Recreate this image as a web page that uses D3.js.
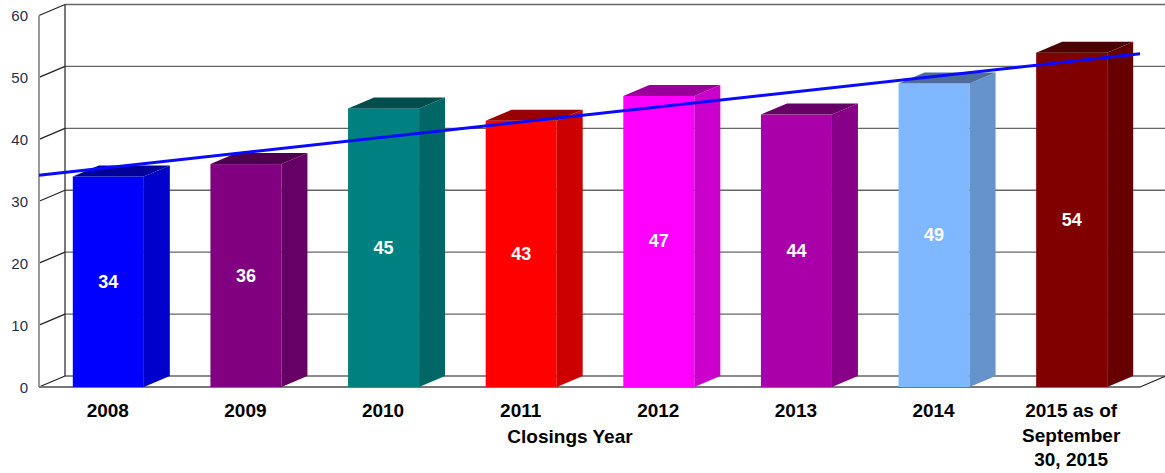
<!DOCTYPE html>
<html>
<head>
<meta charset="utf-8">
<script src="https://cdn.jsdelivr.net/npm/d3@7"></script>
<style>
  body { margin: 0; background: #fff; }
  svg { display: block; font-family: Arial, "Liberation Sans", sans-serif; }
</style>
</head>
<body>
<script>
// data
const years = ["2008", "2009", "2010", "2011", "2012", "2013", "2014", "2015 as of September 30, 2015"];
const closings = [34, 36, 45, 43, 47, 44, 49, 54];
const barColors = ["#0000ff", "#800080", "#008080", "#ff0000", "#ff00ff", "#aa00aa", "#80b8ff", "#800000"];
const yTicks = [0, 10, 20, 30, 40, 50, 60];

const width = 1165, height = 473;
const depthX = 26, depthY = -11;   // 3d offset of the back wall

var svg = d3.select("body")
    .append("svg")
    .attr("width", width)
    .attr("height", height);

const x = d3.scaleBand()
    .domain(years)
    .range([39, 1140]);

const y = d3.scaleLinear()
    .domain([0, 60])
    .range([387, 15.5]);

const barW = x.bandwidth() * 0.516;

// shade a colour (side and top faces)
function shade(c, k) {
    const r = d3.rgb(c);
    return d3.rgb(r.r * k, r.g * k, r.b * k).formatHex();
}

// back wall gridlines
svg.append("g").selectAll("line")
    .data(yTicks)
    .enter()
    .append("line")
    .attr("x1", x.range()[0] + depthX)
    .attr("x2", width)
    .attr("y1", d => y(d) + depthY)
    .attr("y2", d => y(d) + depthY)
    .attr("stroke", "#666")
    .attr("stroke-width", 1.3);

// side wall diagonals
svg.append("g").selectAll("line")
    .data(yTicks)
    .enter()
    .append("line")
    .attr("x1", x.range()[0])
    .attr("x2", x.range()[0] + depthX)
    .attr("y1", d => y(d))
    .attr("y2", d => y(d) + depthY)
    .attr("stroke", "#222")
    .attr("stroke-width", 1.2);

// back wall vertical edge
svg.append("line")
    .attr("x1", x.range()[0] + depthX).attr("x2", x.range()[0] + depthX)
    .attr("y1", y(60) + depthY).attr("y2", y(0) + depthY)
    .attr("stroke", "#222").attr("stroke-width", 1.2);

// front axis + floor
svg.append("line")
    .attr("x1", x.range()[0]).attr("x2", x.range()[0])
    .attr("y1", y(60)).attr("y2", y(0))
    .attr("stroke", "#999").attr("stroke-width", 2);

svg.append("line")
    .attr("x1", x.range()[0]).attr("x2", x.range()[1])
    .attr("y1", y(0)).attr("y2", y(0))
    .attr("stroke", "#777").attr("stroke-width", 2);

svg.append("line")
    .attr("x1", x.range()[1]).attr("x2", x.range()[1] + depthX)
    .attr("y1", y(0)).attr("y2", y(0) + depthY)
    .attr("stroke", "#222").attr("stroke-width", 1.2);

// y tick labels
svg.append("g").selectAll("text")
    .data(yTicks)
    .enter()
    .append("text")
    .attr("x", 28)
    .attr("y", d => y(d) + 2)
    .attr("text-anchor", "end")
    .attr("dominant-baseline", "middle")
    .attr("font-size", 15)
    .attr("fill", "#1f2d4d")
    .text(d => d);

// bars
const bars = svg.append("g").selectAll("g")
    .data(closings)
    .enter()
    .append("g");

function x0(i) { return x(years[i]) + (x.bandwidth() - barW) / 2 + 0.5; }

bars.append("rect")
    .attr("x", (d, i) => x0(i))
    .attr("y", d => y(d))
    .attr("width", barW)
    .attr("height", d => y(0) - y(d))
    .attr("fill", (d, i) => barColors[i]);

bars.append("path")
    .attr("d", (d, i) => {
        const a = x0(i) + barW;
        return `M${a},${y(d)}L${a + depthX},${y(d) + depthY}L${a + depthX},${y(0) + depthY}L${a},${y(0)}Z`;
    })
    .attr("fill", (d, i) => shade(barColors[i], 0.8));

bars.append("path")
    .attr("d", (d, i) => {
        const a = x0(i);
        return `M${a},${y(d)}L${a + barW},${y(d)}L${a + barW + depthX},${y(d) + depthY}L${a + depthX},${y(d) + depthY}Z`;
    })
    .attr("fill", (d, i) => shade(barColors[i], 0.6));

// value labels
bars.append("text")
    .attr("x", (d, i) => x0(i) + barW / 2)
    .attr("y", d => (y(d) + y(0)) / 2)
    .attr("text-anchor", "middle")
    .attr("dominant-baseline", "central")
    .attr("font-size", 18)
    .attr("font-weight", "bold")
    .attr("fill", "#fff")
    .text(d => d);

// linear trend line (least squares on the bar values)
const n = closings.length;
const mx = d3.mean(closings, (d, i) => i);
const my = d3.mean(closings);
const slope = d3.sum(closings, (d, i) => (i - mx) * (d - my)) / d3.sum(closings, (d, i) => (i - mx) * (i - mx));
const icpt = my - slope * mx;
const step = x.step();
const xc = i => x(years[0]) + x.bandwidth() / 2 + i * step;

svg.append("line")
    .attr("x1", xc(-0.5))
    .attr("y1", y(icpt - 0.5 * slope))
    .attr("x2", xc(n - 0.5))
    .attr("y2", y(icpt + (n - 0.5) * slope))
    .attr("stroke", "#0a0aff")
    .attr("stroke-width", 3);

// x labels
const xLabels = svg.append("g").selectAll("text")
    .data(years)
    .enter()
    .append("text")
    .attr("x", d => x(d) + x.bandwidth() / 2)
    .attr("y", 417)
    .attr("text-anchor", "middle")
    .attr("font-size", 19)
    .attr("font-weight", "bold")
    .attr("fill", "#000");

xLabels.each(function(d) {
    const lines = d.startsWith("2015") ? ["2015 as of", "September", "30, 2015"] : [d];
    const t = d3.select(this);
    lines.forEach((l, k) => {
        t.append("tspan")
            .attr("x", x(d) + x.bandwidth() / 2)
            .attr("dy", k === 0 ? 0 : 24.5)
            .text(l);
    });
});

svg.append("text")
    .attr("x", 570)
    .attr("y", 443)
    .attr("text-anchor", "middle")
    .attr("font-size", 19)
    .attr("font-weight", "bold")
    .attr("fill", "#000")
    .text("Closings Year");
</script>
</body>
</html>
